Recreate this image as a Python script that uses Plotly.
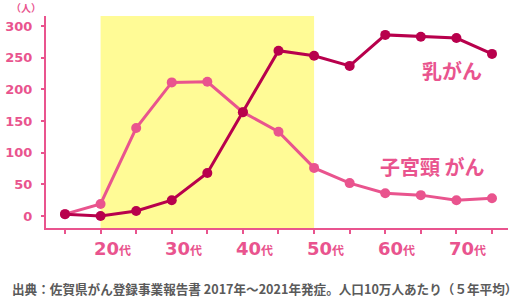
import plotly.graph_objects as go

ages = list(range(13))  # 15-19 ... 75-79
breast = [3, 0, 8, 25, 68, 164, 261, 253, 237, 286, 283, 281, 256]
cervical = [3, 19, 139, 211, 212, 164, 133, 76, 52, 36, 33, 25, 28]
tick_vals = [1, 3, 5, 7, 9, 11]
tick_nums = ["20", "30", "40", "50", "60", "70"]
y_ticks = [0, 50, 100, 150, 200, 250, 300]
highlight = [1, 7]

PINK = "#e9548e"
DARK = "#b8004c"
YELLOW = "#fffb96"
W, H = 520, 297

fig = go.Figure()
fig.add_shape(type="rect", xref="x", yref="y domain", x0=highlight[0], x1=highlight[1],
              y0=0, y1=1, fillcolor=YELLOW, line_width=0, layer="below")
fig.add_trace(go.Scatter(x=ages, y=cervical, mode="lines+markers",
                         line=dict(color=PINK, width=3), marker=dict(size=10, color=PINK)))
fig.add_trace(go.Scatter(x=ages, y=breast, mode="lines+markers",
                         line=dict(color=DARK, width=3), marker=dict(size=10, color=DARK)))

fig.update_layout(
    width=W, height=H, margin=dict(l=0, r=0, t=0, b=0),
    paper_bgcolor="white", plot_bgcolor="white", showlegend=False,
    font=dict(family="Noto Sans CJK JP, DejaVu Sans", color=PINK),
    xaxis=dict(domain=[46 / W, 508 / W], range=[-0.534, 12.45], showgrid=False, zeroline=False,
               showline=True, linecolor=PINK, linewidth=2,
               tickmode="array", tickvals=ages, showticklabels=False,
               ticks="outside", ticklen=4, tickcolor=PINK, tickwidth=1.5),
    yaxis=dict(domain=[(H - 228) / H, (H - 16) / H], range=[-18.9, 315.8], showgrid=False,
               zeroline=False, showline=True, linecolor=PINK, linewidth=2,
               tickmode="array", tickvals=y_ticks, ticks="outside", ticklen=3,
               tickcolor=PINK, tickwidth=1.5,
               tickfont=dict(size=13, color=PINK, family="DejaVu Sans", weight="bold"),
               ticklabelstandoff=6),
)

for v, n in zip(tick_vals, tick_nums):
    fig.add_annotation(text=f"<b>{n}</b>", x=v, xref="x", y=1 - 248 / H, yref="paper",
                       xanchor="right", yanchor="middle", xshift=20, showarrow=False,
                       font=dict(size=18, color=PINK, family="DejaVu Sans"))
    fig.add_annotation(text="<b>代</b>", x=v, xref="x", y=1 - 249 / H, yref="paper",
                       xanchor="left", yanchor="middle", xshift=16, showarrow=False,
                       font=dict(size=12, color=PINK, family="Noto Sans CJK JP"))

fig.add_annotation(text="<b>乳がん</b>", x=452 / W, y=1 - 70 / H, xref="paper", yref="paper",
                   xanchor="center", yanchor="middle",
                   showarrow=False, font=dict(size=20, color=PINK, family="Noto Sans CJK JP"))
fig.add_annotation(text="<b>子宮頸 がん</b>", x=432 / W, y=1 - 166 / H, xref="paper", yref="paper",
                   xanchor="center", yanchor="middle",
                   showarrow=False, font=dict(size=20, color=PINK, family="Noto Sans CJK JP"))
fig.add_annotation(text="<b>（人）</b>", x=26 / W, y=1 - 7 / H, xref="paper", yref="paper",
                   xanchor="center", yanchor="middle",
                   showarrow=False, font=dict(size=10, color=PINK, family="Noto Sans CJK JP"))
fig.add_annotation(text="<b>出典：佐賀県がん登録事業報告書 2017年～2021年発症。人口10万人あたり（５年平均）</b>",
                   x=10 / W, y=1 - 288 / H, xref="paper", yref="paper", xanchor="left",
                   yanchor="middle",
                   showarrow=False, font=dict(size=12.6, color="#5a5a5a", family="Noto Sans CJK JP"))

fig.write_html("out.html")
